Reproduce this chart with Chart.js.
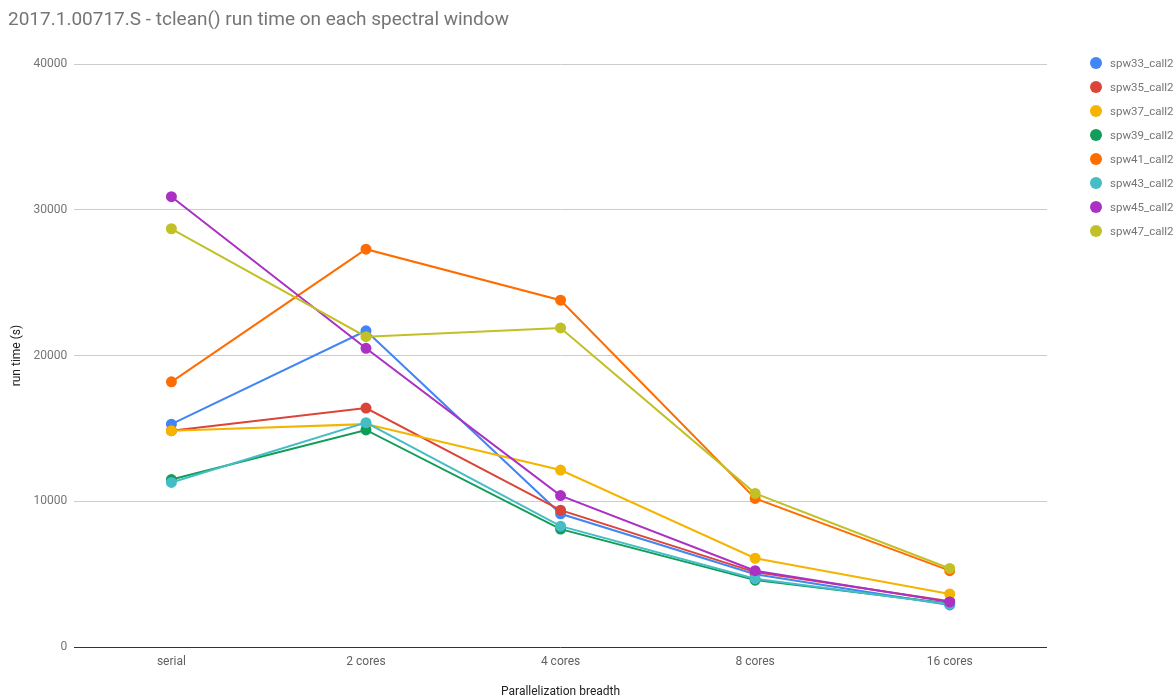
<!DOCTYPE html>
<html>
<head>
<meta charset="utf-8">
<script src="https://cdn.jsdelivr.net/npm/chart.js@4"></script>
<style>
  html, body { margin: 0; padding: 0; background: #fff; }
  #wrap { width: 1176px; height: 698px; position: relative; }
</style>
</head>
<body>
<div id="wrap"><canvas id="c" width="1176" height="698"></canvas></div>
<script>
// Core counts on the x axis
const categories = ['serial', '2 cores', '4 cores', '8 cores', '16 cores'];

// Run time (s) per spectral window
const spw33 = [15300, 21700, 9150, 5000, 2900];
const spw35 = [14850, 16400, 9400, 5150, 3150];
const spw37 = [14850, 15300, 12150, 6100, 3650];
const spw39 = [11500, 14900, 8100, 4600, 3000];
const spw41 = [18200, 27300, 23800, 10200, 5250];
const spw43 = [11300, 15400, 8300, 4700, 2950];
const spw45 = [30900, 20500, 10400, 5250, 3100];
const spw47 = [28700, 21300, 21900, 10550, 5400];

const seriesNames = ['spw33_call2', 'spw35_call2', 'spw37_call2', 'spw39_call2',
                     'spw41_call2', 'spw43_call2', 'spw45_call2', 'spw47_call2'];
const seriesValues = [spw33, spw35, spw37, spw39, spw41, spw43, spw45, spw47];
const seriesColors = ['#4285F4', '#DB4437', '#F4B400', '#0F9D58',
                      '#FF6D00', '#46BDC6', '#AB30C4', '#C2C027'];

const yTicks = [0, 10000, 20000, 30000, 40000];

const FONT = 'Roboto, "Open Sans", sans-serif';

// Title and side legend drawn straight onto the canvas
const decorations = {
  id: 'decorations',
  afterDraw(chart) {
    const ctx = chart.ctx;
    ctx.save();
    ctx.fillStyle = '#757575';
    ctx.font = '19px ' + FONT;
    ctx.textBaseline = 'alphabetic';
    ctx.textAlign = 'left';
    ctx.fillText('2017.1.00717.S - tclean() run time on each spectral window', 8, 25);

    ctx.font = '11.5px ' + FONT;
    ctx.textBaseline = 'middle';
    chart.data.datasets.forEach((ds, i) => {
      const y = 63 + i * 24;
      ctx.fillStyle = ds.borderColor;
      ctx.beginPath();
      ctx.arc(1096, y, 6, 0, Math.PI * 2);
      ctx.fill();
      ctx.fillStyle = '#757575';
      ctx.fillText(ds.label, 1110, y + 1);
    });
    ctx.restore();
  }
};

new Chart(document.getElementById('c'), {
  type: 'line',
  data: {
    labels: categories,
    datasets: seriesValues.map((vals, i) => ({
      label: seriesNames[i],
      data: vals,
      borderColor: seriesColors[i],
      backgroundColor: seriesColors[i],
      pointBackgroundColor: seriesColors[i],
      pointBorderColor: seriesColors[i],
      borderWidth: 2,
      pointRadius: 4.5,
      pointHoverRadius: 4.5,
      tension: 0,
      order: seriesNames.length - i
    }))
  },
  options: {
    responsive: false,
    animation: false,
    layout: { padding: { left: 10, right: 129, top: 64, bottom: -1 } },
    plugins: {
      legend: { display: false },
      title: { display: false },
      tooltip: { enabled: false }
    },
    scales: {
      x: {
        type: 'category',
        offset: true,
        grid: { display: false, drawTicks: false },
        border: { display: false },
        ticks: { color: '#616161', font: { family: FONT, size: 12 }, padding: 8 },
        title: {
          display: true,
          text: 'Parallelization breadth',
          color: '#222',
          font: { family: FONT, size: 12 },
          padding: { top: 7, bottom: 0 }
        }
      },
      y: {
        min: 0,
        max: 40000,
        afterBuildTicks(axis) { axis.ticks = yTicks.map(v => ({ value: v })); },
        grid: {
          color: ctx => ctx.tick && ctx.tick.value === 0 ? '#333' : '#cccccc',
          lineWidth: 1,
          drawTicks: false
        },
        border: { display: false },
        ticks: {
          color: '#757575',
          font: { family: FONT, size: 12 },
          padding: 7,
          callback: v => String(v)
        },
        title: {
          display: true,
          text: 'run time (s)',
          color: '#222',
          font: { family: FONT, size: 12 },
          padding: { top: 0, bottom: 2 }
        }
      }
    }
  },
  plugins: [decorations]
});
</script>
</body>
</html>
